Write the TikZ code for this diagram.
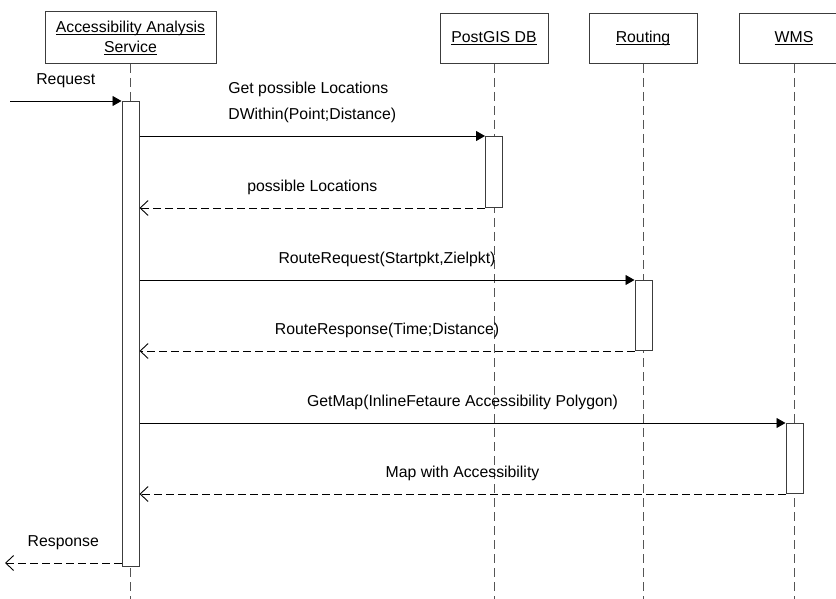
\documentclass[tikz,border=0pt]{standalone}
\usepackage{fontspec}
\setmainfont{Liberation Sans}
\usetikzlibrary{arrows.meta}

\definecolor{boxgray}{RGB}{60,60,60}
\definecolor{dashgray}{RGB}{85,85,85}

% underline at a fixed depth
\newcommand{\headul}[1]{\setbox0\hbox{#1}\rlap{\rule[-2.2pt]{\wd0}{0.8pt}}\box0}

\tikzset{
  headbox/.style={draw=boxgray, line width=1pt, anchor=south, minimum height=50pt,
    align=center, font=\fontsize{15.8}{20}\selectfont},
  lifeline/.style={draw=dashgray, line width=0.9pt, dash pattern=on 9pt off 5pt},
  actbar/.style={draw=boxgray, fill=white, line width=1pt, anchor=north,
    minimum width=17pt, inner sep=0pt},
  call/.style={line width=0.9pt, -{Triangle[length=9pt,width=10pt]}},
  reply/.style={line width=0.9pt, dash pattern=on 8pt off 4pt,
    -{Straight Barb[length=8pt,width=15pt]}},
  msg/.style={above=13pt, inner sep=0pt, font=\fontsize{15.8}{26}\selectfont}
}

\begin{document}
\begin{tikzpicture}[x=1pt,y=-1pt]
  \useasboundingbox (0,0) rectangle (836,599);
  \clip (0,0) rectangle (836,599);

  % heads
  \node[headbox, minimum width=171pt, minimum height=52pt] (aas) at (130.5,64)
    {\headul{Accessibility Analysis}\\\headul{Service}};
  \node[headbox, minimum width=108pt] (postgis) at (494,64) {\headul{PostGIS DB}};
  \node[headbox, minimum width=108pt] (routing) at (643,64) {\headul{Routing}};
  \node[headbox, minimum width=110pt] (wms) at (794,64) {\headul{WMS}};

  % lifelines
  \coordinate (bottom) at (0,599);
  \foreach \h in {aas,postgis,routing,wms}
    \draw[lifeline] (\h.south) -- (\h.south |- bottom);

  % activation bars
  \node[actbar, minimum height=465pt] (aasact) at (130.5,101) {};
  \node[actbar, minimum height=71pt] (pgact) at (494,136) {};
  \node[actbar, minimum height=70pt] (routact) at (643.5,280) {};
  \node[actbar, minimum height=70pt] (wmsact) at (794.5,423) {};

  % messages
  \coordinate (reqstart) at (10,101);
  \draw[call] (reqstart) -- (aasact.north west) node[midway,msg] {Request};

  \draw[call] (aasact.east |- pgact.north) -- (pgact.north west)
    node[midway,msg,align=left] {Get possible Locations\\DWithin(Point;Distance)};
  \draw[reply] (pgact.south west) -- (aasact.east |- pgact.south)
    node[midway,msg] {possible Locations};

  \draw[call] (aasact.east |- routact.north) -- (routact.north west)
    node[midway,msg] {RouteRequest(Startpkt,Zielpkt)};
  \draw[reply] (routact.south west) -- (aasact.east |- routact.south)
    node[midway,msg] {RouteResponse(Time;Distance)};

  \draw[call] (aasact.east |- wmsact.north) -- (wmsact.north west)
    node[midway,msg] {GetMap(InlineFetaure Accessibility Polygon)};
  \draw[reply] (wmsact.south west) -- (aasact.east |- wmsact.south)
    node[midway,msg] {Map with Accessibility};

  \coordinate (respend) at (5,563);
  \draw[reply] (aasact.west |- respend) -- (respend) node[midway,msg] {Response};
\end{tikzpicture}
\end{document}
